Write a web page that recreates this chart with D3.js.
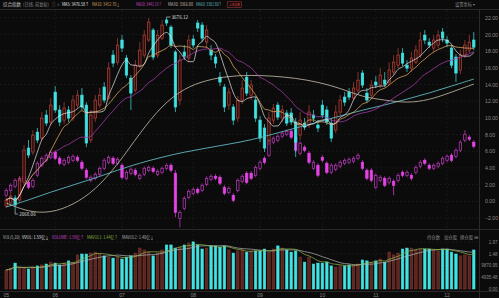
<!DOCTYPE html>
<html><head><meta charset="utf-8">
<script src="https://cdn.jsdelivr.net/npm/d3@7"></script>
<style>body{margin:0;background:#0b0b0b;}svg{display:block;font-family:"Noto Sans CJK SC","Noto Sans",sans-serif;}</style>
</head><body><svg id="c" width="499" height="298"></svg>
<script>
// ---- main index candles (points) ----
const mainOpen=[2101,2126,2168,2151,2301,2584,2551,2717,2667,2859,2801,3050,2901,2817,2901,2834,2942,3025,2942,2651,2834,2942,3092,3001,3359,3300,3484,3334,3167,3067,3275,3359,3484,3567,3359,3500,3651,3592,3384,2984,3384,3334,3492,3626,3609,3467,3400,3342,3175,3092,2942,2926,2834,2984,3175,3025,2984,2817,2751,2651,2817,2942,2834,2876,2876,2801,2692,2792,2776,2859,2776,2942,2901,2792,2734,2884,3009,3050,3001,3067,3209,3042,3025,3134,3109,3150,3134,3217,3275,3375,3275,3250,3300,3359,3525,3467,3417,3442,3551,3484,3417,3342,3234,3359,3400,3484];
const mainClose=[2151,2184,2109,2317,2567,2526,2692,2651,2834,2792,2942,2901,2801,2917,2834,2984,3025,2926,2626,2859,2984,3025,2984,3250,3292,3442,3417,3192,3042,3275,3400,3525,3634,3342,3525,3609,3626,3442,2926,3317,3350,3484,3442,3584,3500,3567,3359,3292,3134,2926,3050,2817,2984,3084,3042,3109,2834,2667,2584,2834,2917,2842,2901,2792,2801,2634,2817,2759,2884,2834,2751,2859,2801,2667,2884,2984,2967,3009,3084,3150,3109,2984,3109,3109,3192,3117,3234,3300,3359,3292,3250,3334,3400,3484,3484,3442,3484,3525,3500,3459,3275,3209,3359,3442,3467,3425];
const mainHigh=[2168,2217,2192,2351,2609,2651,2734,2751,2884,2901,3001,3100,2942,2967,2934,3025,3067,3084,2967,2901,3025,3084,3134,3300,3400,3500,3525,3359,3192,3317,3467,3567,3667,3584,3567,3651,3676.12,3609,3400,3359,3442,3525,3525,3651,3634,3609,3442,3367,3217,3117,3084,2951,3017,3150,3217,3150,3009,2851,2784,2884,2951,2967,2942,2901,2917,2834,2884,2834,2942,2901,2817,2984,2934,2834,2942,3025,3050,3084,3134,3217,3234,3084,3150,3184,3250,3217,3300,3359,3417,3417,3317,3384,3442,3551,3567,3500,3525,3567,3584,3517,3442,3367,3400,3484,3525,3551];
const mainLow=[2084,2101,2068.06,2134,2276,2501,2526,2626,2651,2767,2776,2876,2767,2784,2801,2809,2917,2901,2592,2626,2801,2917,2959,2984,3259,3275,3384,3167,2901,3050,3250,3334,3467,3317,3334,3484,3601,3417,2884,2942,3317,3300,3417,3551,3467,3417,3317,3250,3100,2884,2901,2776,2801,2951,3017,2984,2801,2634,2551,2609,2784,2817,2801,2767,2776,2509,2651,2734,2751,2801,2717,2834,2776,2634,2709,2859,2934,2984,2984,3042,3084,2959,3001,3084,3084,3092,3109,3192,3250,3267,3217,3217,3284,3334,3450,3417,3384,3417,3467,3425,3250,3134,3200,3334,3375,3400];
// ---- overlay series (right axis) ----
const subOpen=[0.72,1.32,1.80,2.28,2.52,2.28,1.80,3.12,4.32,4.92,5.28,5.88,5.16,4.44,4.68,4.92,5.28,4.68,3.72,2.52,2.76,3.24,3.96,4.68,5.16,4.56,4.32,2.76,3.36,3.72,2.76,3.24,3.72,3.96,3.24,3.48,3.96,4.32,3.36,-2.04,-0.84,0.48,0.96,1.44,1.32,2.04,2.64,3.00,2.88,1.68,1.08,0.72,1.32,2.40,3.36,3.36,3.12,3.96,5.16,5.52,7.08,7.32,7.80,8.04,8.40,7.68,5.76,6.48,5.76,3.96,4.32,5.28,4.56,3.48,3.84,4.20,4.56,4.68,4.80,5.16,4.68,3.72,3.72,1.68,2.52,2.76,2.28,2.40,2.52,3.48,3.12,3.12,3.48,4.20,4.92,4.32,3.96,4.20,4.56,4.92,5.52,5.40,6.12,7.32,7.68,7.08];
const subClose=[1.32,1.92,2.52,2.76,3.00,1.68,2.52,4.56,5.16,5.52,5.88,5.16,4.56,4.92,5.28,5.40,4.92,3.96,2.88,2.88,3.24,3.96,4.92,5.28,4.56,5.04,2.88,3.48,3.84,3.24,3.12,3.96,4.08,3.60,3.60,3.96,4.32,3.72,-1.32,-1.32,0.36,1.20,1.44,1.08,1.92,2.76,3.00,2.76,2.16,0.96,1.56,0.12,2.52,3.00,2.28,2.76,4.08,4.68,4.68,7.32,7.56,7.80,8.16,8.40,7.68,6.12,6.96,6.12,4.68,4.68,3.12,4.92,3.48,4.32,4.32,4.68,4.92,5.04,5.16,5.52,3.96,2.76,2.52,3.12,2.88,1.92,2.76,1.92,3.12,3.12,3.48,2.76,4.08,4.68,4.56,3.96,4.32,4.56,5.16,5.40,4.92,6.12,7.08,8.04,7.44,6.60];
const subHigh=[1.56,2.16,2.76,3.00,3.24,2.52,2.76,4.80,5.40,5.76,6.12,6.12,5.40,5.16,5.52,5.64,5.52,4.92,3.96,3.12,3.48,4.20,5.16,5.52,5.40,5.28,4.56,3.72,4.08,3.96,3.36,4.20,4.32,4.20,3.84,4.20,4.56,4.56,3.72,-1.08,0.60,1.44,1.68,1.68,2.16,3.00,3.24,3.24,3.12,1.92,1.80,0.96,2.76,3.24,3.60,3.60,4.32,4.92,5.40,7.56,7.80,8.04,8.40,8.64,8.64,7.92,7.20,6.72,6.00,4.92,4.56,5.52,4.80,4.56,4.56,4.92,5.16,5.28,5.40,5.76,4.92,3.96,3.96,3.36,3.12,3.00,3.00,2.64,3.36,3.72,3.72,3.36,4.32,4.92,5.16,4.56,4.56,4.80,5.40,5.64,5.76,6.36,7.32,8.52,7.92,7.32];
const subLow=[0.48,1.08,1.56,2.04,2.28,1.44,1.56,2.88,4.08,4.68,5.04,4.92,4.32,4.20,4.44,4.68,4.68,3.72,2.64,2.28,2.52,3.00,3.72,4.44,4.32,4.32,2.64,2.52,3.12,3.00,2.52,3.00,3.48,3.36,3.00,3.24,3.72,3.48,-1.92,-3.12,-1.08,0.24,0.72,0.84,1.08,1.80,2.40,2.52,1.92,0.72,0.84,-0.12,1.08,2.16,2.04,2.52,2.88,3.72,4.44,5.28,6.84,7.08,7.56,7.80,7.44,5.88,5.52,5.88,4.44,3.72,2.88,4.68,3.24,3.24,3.60,3.96,4.32,4.44,4.56,4.92,3.72,2.52,2.28,1.44,2.28,1.68,2.04,0.72,2.28,2.88,2.88,2.52,3.24,3.96,4.32,3.72,3.72,3.96,4.32,4.68,4.68,5.16,5.88,7.08,7.20,6.36];
// ---- volume (亿) ----
const volume=[0.80,0.88,1.09,0.88,0.88,0.84,0.92,0.97,1.01,1.05,1.13,1.09,1.01,1.09,1.18,1.13,1.43,1.47,1.47,1.51,1.55,1.47,1.39,1.34,1.30,1.34,1.26,1.34,1.39,1.51,1.72,1.64,1.55,1.39,1.51,1.64,1.85,1.85,1.72,1.76,1.85,1.93,1.98,1.85,1.68,1.72,1.81,1.81,1.76,1.81,1.64,1.51,1.60,1.64,1.55,1.60,1.60,1.60,1.68,1.55,1.68,1.81,1.72,1.64,1.55,1.60,1.34,1.13,1.34,1.05,1.09,1.09,1.13,0.97,0.92,0.97,0.97,1.01,1.01,1.05,1.22,1.18,1.13,1.18,1.26,1.13,1.55,1.43,1.51,1.68,1.72,1.72,1.64,1.68,1.68,1.68,1.64,1.60,1.68,1.68,1.55,1.47,1.39,1.43,1.39,1.64];
// ---- long moving averages (every 5th bar) ----
const longMaIdx=[0,5,10,15,20,25,30,35,40,45,50,55,60,65,70,75,80,85,90,95,100,105];
const ma30=[2126,2051,2043,2109,2234,2443,2709,2942,3084,3151,3184,3192,3184,3167,3134,3084,3009,2984,2959,2984,3050,3117];
const ma60=[2093,2151,2218,2276,2334,2401,2459,2509,2551,2584,2617,2651,2701,2751,2801,2851,2901,2942,2992,3042,3101,3159];
// ---- ticks ----
const priceTicks=[-2,0,2,4,6,8,10,12,14,16,18,20,22];
const volTicks=[0,0.493548,0.987095,1.4805,1.974];
const volTickLabels=["0.00","4935.48","9870.95","1.48","1.97"];
const monthIdx=[0,11,26,42,57,71,83,99];
const monthLabels=["05","06","07","08","09","10","11","12"];

const W=499,H=298;
const svg=d3.select('#c');
svg.append('rect').attr('width',W).attr('height',H).attr('fill','#0b0b0b');
const N=mainClose.length;
const x=d3.scaleBand().domain(d3.range(N)).range([4,476]).paddingInner(0.3).paddingOuter(0.15);
const bw=x.bandwidth();
const cx=i=>x(i)+bw/2;
const yR=d3.scaleLinear().domain([-2,22]).range([218,17.7]);
const yM=d3.scaleLinear().domain([2068.06,3676.12]).range([210,17]);
const yV=d3.scaleLinear().domain([0,1.974]).range([289,242]);

// frame lines
const frame=svg.append('g').attr('stroke','#2a2a2a').attr('stroke-width',1);
frame.append('line').attr('x1',0).attr('x2',W).attr('y1',9.5).attr('y2',9.5);
frame.append('line').attr('x1',0).attr('x2',W).attr('y1',229.5).attr('y2',229.5);
frame.append('line').attr('x1',0).attr('x2',W).attr('y1',291.5).attr('y2',291.5);
frame.append('line').attr('x1',479.5).attr('x2',479.5).attr('y1',9).attr('y2',298);

// grid
const grid=svg.append('g').attr('stroke','#191919').attr('stroke-dasharray','2,2');
priceTicks.forEach(t=>grid.append('line').attr('x1',0).attr('x2',479).attr('y1',yR(t)).attr('y2',yR(t)));
volTicks.slice(1).forEach(t=>grid.append('line').attr('x1',0).attr('x2',479).attr('y1',yV(t)).attr('y2',yV(t)));
monthIdx.slice(1).forEach(i=>grid.append('line').attr('x1',cx(i)).attr('x2',cx(i)).attr('y1',10).attr('y2',291));

// right axis
const ra=svg.append('g').attr('transform','translate(479,0)')
  .call(d3.axisRight(yR).tickValues(priceTicks).tickFormat(d3.format('.2f')).tickSize(0).tickPadding(6));
ra.select('.domain').remove();
ra.selectAll('text').attr('fill','#8a8a8a').attr('font-size',5.2);
const va=svg.append('g').attr('transform','translate(479,0)')
  .call(d3.axisRight(yV).tickValues(volTicks).tickFormat((d,k)=>volTickLabels[k]).tickSize(0).tickPadding(2));
va.select('.domain').remove();
va.selectAll('text').attr('fill','#8a8a8a').attr('font-size',4.5).attr('x',null).attr('text-anchor','end').attr('dx',0)
  .attr('transform','translate(18.5,0)');

const ba=svg.append('g').attr('transform','translate(0,291)')
  .call(d3.axisBottom(x).tickValues(monthIdx).tickFormat((d,k)=>monthLabels[k]).tickSize(0).tickPadding(2));
ba.select('.domain').remove();
ba.selectAll('text').attr('fill','#8a8a8a').attr('font-size',5);

// moving averages
function ma(arr,n){return arr.map((v,i)=>{const s=arr.slice(Math.max(0,i-n+1),i+1);return d3.mean(s);});}
const lineM=d3.line().x((d,i)=>cx(i)).y(d=>yM(d)).curve(d3.curveMonotoneX);
const lineL=d3.line().x(d=>cx(d[0])).y(d=>yM(d[1])).curve(d3.curveBasis);
const gMa=svg.append('g').attr('fill','none');
gMa.append('path').attr('d',lineL(longMaIdx.map((k,j)=>[k,ma60[j]]))).attr('stroke','#5fb7c0').attr('stroke-width',0.9);
gMa.append('path').attr('d',lineL(longMaIdx.map((k,j)=>[k,ma30[j]]))).attr('stroke','#c9bfae').attr('stroke-width',0.8);

// overlay candles (magenta)
const gS=svg.append('g');
d3.range(N).forEach(i=>{
  const up=subClose[i]>=subOpen[i];
  const col=up?'#c23cc2':'#e444e4';
  gS.append('line').attr('x1',cx(i)).attr('x2',cx(i)).attr('y1',yR(subHigh[i])).attr('y2',yR(subLow[i])).attr('stroke',col).attr('stroke-width',0.7);
  const t=yR(Math.max(subOpen[i],subClose[i])),b=yR(Math.min(subOpen[i],subClose[i]));
  gS.append('rect').attr('x',x(i)+0.35).attr('width',bw-0.7).attr('y',t).attr('height',Math.max(1,b-t))
    .attr('fill',up?'#0b0b0b':col).attr('stroke',col).attr('stroke-width',0.7);
});

// main candles
const gC=svg.append('g');
d3.range(N).forEach(i=>{
  const up=mainClose[i]>=mainOpen[i];
  const col=up?'#b8443a':'#40e2e2';
  gC.append('line').attr('x1',cx(i)).attr('x2',cx(i)).attr('y1',yM(mainHigh[i])).attr('y2',yM(mainLow[i])).attr('stroke',col).attr('stroke-width',0.7);
  const t=yM(Math.max(mainOpen[i],mainClose[i])),b=yM(Math.min(mainOpen[i],mainClose[i]));
  gC.append('rect').attr('x',x(i)+0.35).attr('width',bw-0.7).attr('y',t).attr('height',Math.max(1,b-t))
    .attr('fill',up?'#2a0e0c':col).attr('stroke',col).attr('stroke-width',0.7);
});
gMa.raise();
const gMs=svg.append('g').attr('fill','none');
gMs.append('path').attr('d',lineM(ma(mainClose,20))).attr('stroke','#a23aa8').attr('stroke-width',0.8);
gMs.append('path').attr('d',lineM(ma(mainClose,10))).attr('stroke','#d9a25e').attr('stroke-width',0.8);
gMs.append('path').attr('d',lineM(ma(mainClose,5))).attr('stroke','#e6e6e6').attr('stroke-width',0.7);

// high/low labels
const hiI=36,loI=2;
svg.append('line').attr('x1',cx(hiI)).attr('x2',cx(hiI)+4).attr('y1',yM(mainHigh[hiI])).attr('y2',yM(mainHigh[hiI])).attr('stroke','#ddd').attr('stroke-width',0.6);
svg.append('text').attr('x',cx(hiI)+5).attr('y',yM(mainHigh[hiI])+1.8).text(d3.format('.2f')(mainHigh[hiI])).attr('fill','#ddd').attr('font-size',4.6);
svg.append('path').attr('d',`M${cx(loI)},${yM(mainLow[loI])}V${yM(mainLow[loI])+4}H${cx(loI)+3}`).attr('stroke','#ddd').attr('fill','none').attr('stroke-width',0.6);
svg.append('text').attr('x',cx(loI)+4).attr('y',yM(mainLow[loI])+5.6).text(d3.format('.2f')(mainLow[loI])).attr('fill','#ddd').attr('font-size',4.6);

// volume bars
const gV=svg.append('g');
d3.range(N).forEach(i=>{
  const up=mainClose[i]>=mainOpen[i];
  gV.append('rect').attr('x',x(i)+0.3).attr('width',bw-0.6).attr('y',yV(volume[i])).attr('height',yV(0)-yV(volume[i]))
    .attr('fill',up?'#5a2620':'#40e2e2').attr('stroke',up?'#8a3a30':'#40e2e2').attr('stroke-width',0.5);
});
const lineV=d3.line().x((d,i)=>cx(i)).y(d=>yV(d)).curve(d3.curveMonotoneX);
svg.append('path').attr('d',lineV(ma(volume,10))).attr('stroke','#b5b5b5').attr('fill','none').attr('stroke-width',0.7);
svg.append('path').attr('d',lineV(ma(volume,5))).attr('stroke','#8fb84a').attr('fill','none').attr('stroke-width',0.7);

// legends (fit each text into its slot)
function txt(s,xx,yy,c,len,fs){const t=svg.append('text').attr('x',xx).attr('y',yy).text(s).attr('fill',c).attr('font-size',fs||4.4);
  if(len) t.attr('textLength',len).attr('lengthAdjust','spacingAndGlyphs');}
txt('综合指数',3,6.2,'#c8c8c8',18);
txt('(日线, 前复权)',23,6.2,'#8a8a8a',26);
txt('ⓘ ×',52,6.2,'#8a8a8a',8);
txt('MA5: 3476.58↑',62,6.2,'#e6e6e6',27);
txt('MA10: 3452.70↓',92,6.2,'#d9a25e',28);
txt('MA20: 3441.15↑',136,6.2,'#c848c8',26);
txt('MA30: 3366.80',168,6.2,'#c9bfae',25);
txt('MA60: 3382.80↑',196,6.2,'#5fb7c0',26);
svg.append('rect').attr('x',227.5).attr('y',1.8).attr('width',14).attr('height',5.8).attr('fill','none').attr('stroke','#c03a3a').attr('stroke-width',0.5);
txt('上证指数',229,6.0,'#e04040',11,3.2);
txt('设置坐标 ▾',455,6.2,'#8a8a8a',20);
txt('VOL(5,10)',3,238.5,'#bbbbbb',17);
txt('VVOL: 1.59亿↓',22,238.5,'#e0e0e0',27);
txt('VOLUME: 1.59亿↑',52,238.5,'#d048d0',32);
txt('MAVOL1: 1.44亿↑',87,238.5,'#8fb84a',31);
txt('MAVOL2: 1.40亿↓',122,238.5,'#b5b5b5',32);
txt('持仓数',427,238.5,'#8a8a8a',13);
txt('加仓股',444,238.5,'#8a8a8a',13);
txt('换仓股',460,238.5,'#8a8a8a',13);
txt('⊞',474,238.5,'#8a8a8a',4);
</script></body></html>
